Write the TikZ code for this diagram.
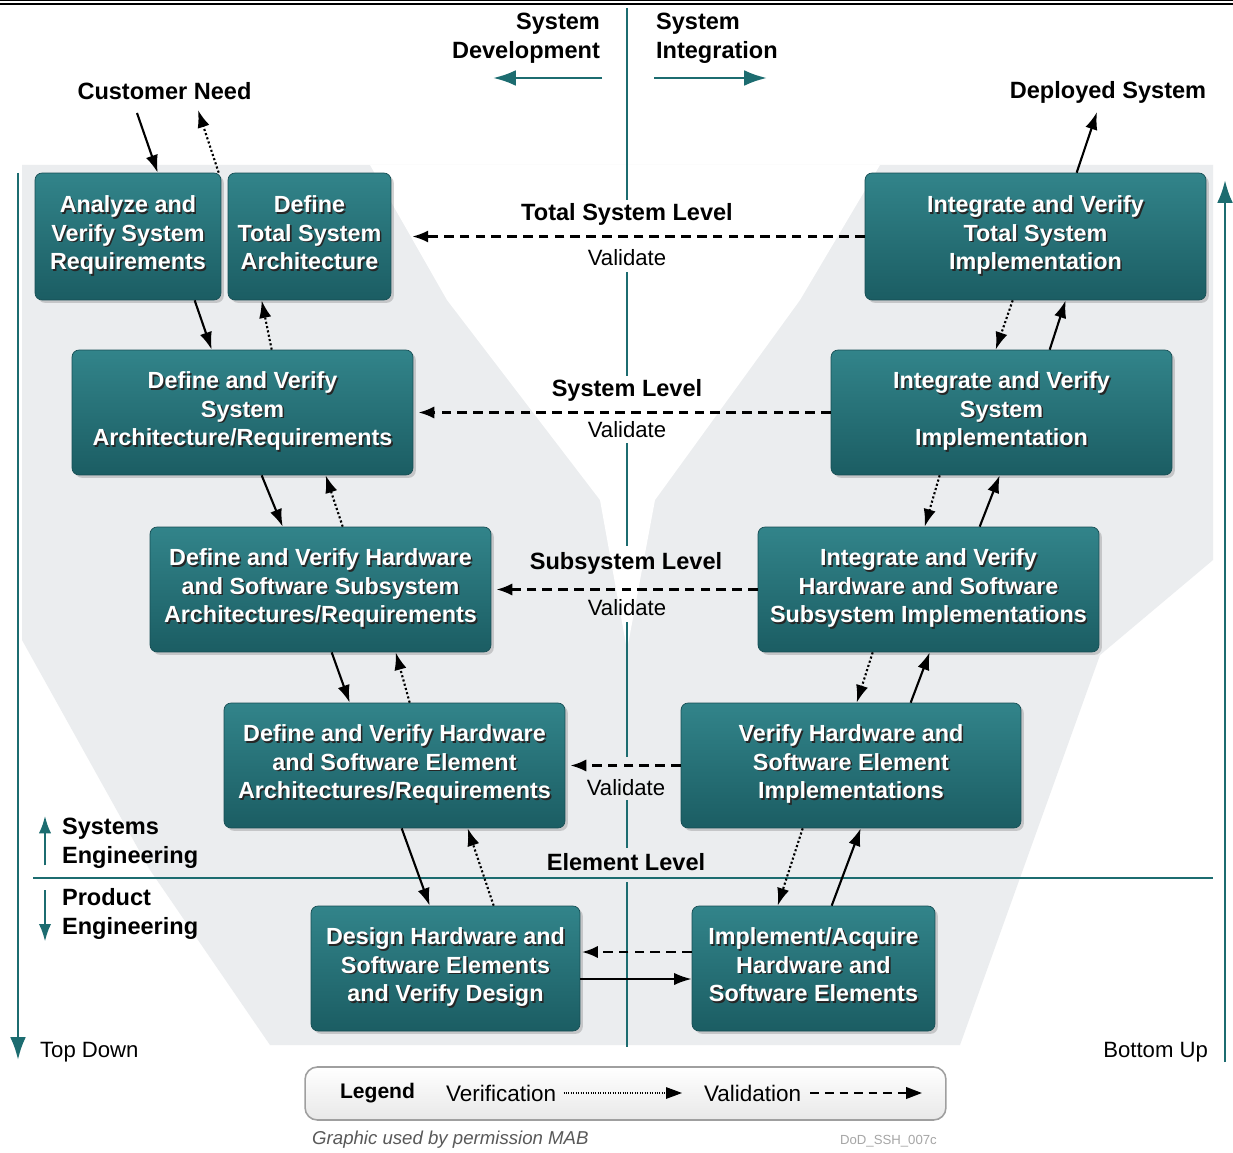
\documentclass[tikz,border=0pt]{standalone}
\usepackage{fontspec}
\setmainfont{Liberation Sans}
\usetikzlibrary{arrows.meta,shadows,calc}

\definecolor{vteal}{RGB}{28,108,112}
\definecolor{boxtop}{RGB}{50,132,138}
\definecolor{boxbot}{RGB}{27,93,99}
\definecolor{boxedge}{RGB}{22,78,84}
\definecolor{bandgray}{RGB}{235,237,239}

\newcommand{\shadowed}[1]{\leavevmode\rlap{\hspace{0.9pt}\raisebox{-0.9pt}{\color{black!85}\begin{tabular}{@{}c@{}}#1\end{tabular}}}\begin{tabular}{@{}c@{}}#1\end{tabular}}

\begin{document}
\begin{tikzpicture}[x=0.02cm,y=-0.02cm,
    stagebox/.style={rounded corners=4pt,top color=boxtop,bottom color=boxbot,draw=boxedge,line width=0.4pt,
      drop shadow={shadow xshift=1.6pt,shadow yshift=-1.6pt,opacity=0.35},
      minimum height=2.5cm,inner sep=0pt,text=white,font=\fontsize{13.3}{16.2}\selectfont\bfseries},
    lvl/.style={font=\fontsize{13.4}{16.5}\selectfont\bfseries,inner sep=1pt},
    val/.style={font=\fontsize{12.6}{15}\selectfont,inner sep=1pt},
    flow/.style={line width=1.2pt,-{Latex[length=10pt,width=7pt]}},
    verify/.style={flow,dash pattern=on 1.2pt off 1.3pt},
    validate/.style={line width=1.2pt,dash pattern=on 5.5pt off 3.5pt,-{Latex[length=9pt,width=7pt]}},
    tealarrow/.style={draw=vteal,line width=1.6pt,-{Latex[length=13pt,width=9pt]}},
    vline/.style={draw=vteal,line width=1.3pt}]

    % page and the grey V band
    \fill[white] (0,0) rectangle (1233,1152);
    \useasboundingbox (0,0) rectangle (1233,1152);
    \fill[bandgray] (22,165) -- (1213,165) -- (1213,560) -- (1100,655) -- (960,1045)
        -- (270,1045) -- (150,870) -- (22,640) -- cycle;
    \fill[white] (370,165) -- (447,300) -- (600,500) -- (627,650) -- (655,500)
        -- (800,300) -- (880,165) -- cycle;

    % top rules
    \draw[line width=0.8pt] (0,0.8) -- (1233,0.8);
    \draw[line width=1.3pt] (0,4) -- (1233,4);

    % dividers
    \draw[vline] (627,8) -- (627,200) (627,272) -- (627,376) (627,443) -- (627,546)
        (627,622) -- (627,757) (627,800) -- (627,848) (627,882) -- (627,1047);
    \draw[vline] (33,878) -- (1213,878);

    % directions
    \node[lvl,align=right,anchor=east] (sysdev) at (602,38) {System\\Development};
    \node[lvl,align=left,anchor=west] (sysint) at (654,38) {System\\Integration};
    \coordinate (devend) at (493,78);
    \coordinate (intend) at (767,78);
    \draw[tealarrow] (sysdev.south east |- devend) -- (devend);
    \draw[tealarrow] (sysint.south west |- intend) -- (intend);

    \coordinate (tdtop) at (18,173);
    \coordinate (tdbot) at (18,1060);
    \draw[tealarrow] (tdtop) -- (tdbot);
    \node[val,anchor=west] (topdown) at (38,1052) {Top Down};
    \coordinate (bubot) at (1225,1062);
    \coordinate (butop) at (1225,180);
    \draw[tealarrow] (bubot) -- (butop);
    \node[val,anchor=east] (bottomup) at (1210,1052) {Bottom Up};

    \node[lvl,align=left,anchor=west] (syseng) at (60,843) {Systems\\Engineering};
    \node[lvl,align=left,anchor=west] (prodeng) at (60,914) {Product\\Engineering};
    \draw[tealarrow,line width=1.4pt,-{Latex[length=10pt,width=7pt]}]
        ($(syseng.south west)+(-15,-5)$) -- ($(syseng.north west)+(-15,0)$);
    \draw[tealarrow,line width=1.4pt,-{Latex[length=10pt,width=7pt]}]
        ($(prodeng.north west)+(-15,4)$) -- ($(prodeng.south west)+(-15,0)$);

    % stages
    \node[stagebox,minimum width=3.72cm,minimum height=2.54cm] (analyze) at (128,236.5) {\shadowed{Analyze and\\Verify System\\Requirements}};
    \node[stagebox,minimum width=3.26cm,minimum height=2.54cm] (totarch) at (309.5,236.5) {\shadowed{Define\\Total System\\Architecture}};
    \node[stagebox,minimum width=6.82cm] (sysarch) at (242.5,412.5) {\shadowed{Define and Verify\\System\\Architecture/Requirements}};
    \node[stagebox,minimum width=6.82cm] (subarch) at (320.5,589.5) {\shadowed{Define and Verify Hardware\\and Software Subsystem\\Architectures/Requirements}};
    \node[stagebox,minimum width=6.82cm] (elemarch) at (394.5,765.5) {\shadowed{Define and Verify Hardware\\and Software Element\\Architectures/Requirements}};
    \node[stagebox,minimum width=5.38cm] (design) at (445.5,968.5) {\shadowed{Design Hardware and\\Software Elements\\and Verify Design}};
    \node[stagebox,minimum width=4.86cm] (implement) at (813.5,968.5) {\shadowed{Implement/Acquire\\Hardware and\\Software Elements}};
    \node[stagebox,minimum width=6.8cm] (verifyelem) at (851,765.5) {\shadowed{Verify Hardware and\\Software Element\\Implementations}};
    \node[stagebox,minimum width=6.82cm] (intsub) at (928.5,589.5) {\shadowed{Integrate and Verify\\Hardware and Software\\Subsystem Implementations}};
    \node[stagebox,minimum width=6.82cm] (intsys) at (1001.5,412.5) {\shadowed{Integrate and Verify\\System\\Implementation}};
    \node[stagebox,minimum width=6.82cm,minimum height=2.54cm] (inttotal) at (1035.5,236.5) {\shadowed{Integrate and Verify\\Total System\\Implementation}};

    % need and deployment
    \node[lvl] (custneed) at (164.5,91) {Customer Need};
    \coordinate (custin) at (137,113);
    \coordinate (custout) at (198,110);
    \draw[flow] (custin) -- ($(analyze.north west)+(123,0)$);
    \draw[verify] ($(analyze.north west)+(184,0)$) -- (custout);
    \node[lvl] (deployed) at (1108,92) {Deployed System};
    \coordinate (deployout) at (1097,112);
    \draw[flow] ($(inttotal.north west)+(212,0)$) -- (deployout);

    % levels
    \node[lvl] (tslevel) at (627,214) {Total System Level};
    \node[val] (tsval) at (627,258) {Validate};
    \node[lvl] (slevel) at (627,390) {System Level};
    \node[val] (sval) at (627,430) {Validate};
    \node[lvl] (sslevel) at (626,563) {Subsystem Level};
    \node[val] (ssval) at (627,608) {Validate};
    \node[val] (elval) at (626,788) {Validate};
    \node[lvl] (ellevel) at (626,862) {Element Level};

    \draw[validate,shorten >=12pt] (inttotal.west) -- (totarch.east);
    \draw[validate,shorten >=3pt] (intsys.west) -- (sysarch.east);
    \draw[validate,shorten >=3pt] (intsub.west) -- (subarch.east);
    \draw[validate,shorten >=3pt] (verifyelem.west) -- (elemarch.east);
    \draw[validate,shorten >=1pt] ($(implement.west)+(0,-16.5)$) -- ($(design.east)+(0,-16.5)$);
    \draw[flow] ($(design.east)+(0,10.5)$) -- ($(implement.west)+(0,10.5)$);

    % down the left
    \draw[flow] ($(analyze.south west)+(160,0)$) -- ($(sysarch.north west)+(140,0)$);
    \draw[verify] ($(sysarch.north west)+(200,0)$) -- ($(totarch.south west)+(34,0)$);
    \draw[flow] ($(sysarch.south west)+(190,0)$) -- ($(subarch.north west)+(133,0)$);
    \draw[verify] ($(subarch.north west)+(193,0)$) -- ($(sysarch.south west)+(254,0)$);
    \draw[flow] ($(subarch.south west)+(182,0)$) -- ($(elemarch.north west)+(126,0)$);
    \draw[verify] ($(elemarch.north west)+(186,0)$) -- ($(subarch.south west)+(246,0)$);
    \draw[flow] ($(elemarch.south west)+(178,0)$) -- ($(design.north west)+(119,0)$);
    \draw[verify] ($(design.north west)+(183,0)$) -- ($(elemarch.south west)+(244,0)$);

    % up the right
    \draw[verify] ($(inttotal.south west)+(148,0)$) -- ($(intsys.north west)+(165,0)$);
    \draw[flow] ($(intsys.north west)+(219,0)$) -- ($(inttotal.south west)+(201,0)$);
    \draw[verify] ($(intsys.south west)+(109,0)$) -- ($(intsub.north west)+(167,0)$);
    \draw[flow] ($(intsub.north west)+(222,0)$) -- ($(intsys.south west)+(169,0)$);
    \draw[verify] ($(intsub.south west)+(115,0)$) -- ($(verifyelem.north west)+(176,0)$);
    \draw[flow] ($(verifyelem.north west)+(230,0)$) -- ($(intsub.south west)+(172,0)$);
    \draw[verify] ($(verifyelem.south west)+(122,0)$) -- ($(implement.north west)+(86,0)$);
    \draw[flow] ($(implement.north west)+(140,0)$) -- ($(verifyelem.south west)+(180,0)$);

    % legend
    \node[draw=gray!75,line width=0.9pt,rounded corners=7pt,top color=white,bottom color=gray!18,
        minimum width=12.82cm,minimum height=1.06cm] (legendbox) at (625.5,1093.5) {};
    \node[font=\fontsize{12}{14}\selectfont\bfseries,inner sep=1pt] (legend) at (377.5,1093) {Legend};
    \node[val,anchor=west,font=\fontsize{12.8}{15}\selectfont] (verif) at (444,1093) {Verification};
    \coordinate (verifend) at (682,1093);
    \draw[line width=0.6pt,dash pattern=on 0.5pt off 0.9pt,-{Triangle[length=9pt,width=6.5pt]}]
        ([xshift=3pt]verif.east) -- (verifend);
    \node[val,anchor=west,font=\fontsize{12.8}{15}\selectfont] (valid) at (702,1093) {Validation};
    \coordinate (validend) at (922,1093);
    \draw[line width=1.2pt,dash pattern=on 5pt off 3.3pt,-{Triangle[length=9pt,width=6.5pt]}]
        ([xshift=4pt]valid.east) -- (validend);

    \node[anchor=west,font=\fontsize{10.6}{12}\selectfont\itshape,text=black!65] (credit) at (306,1140) {Graphic used by permission MAB};
    \node[anchor=east,font=\fontsize{7.5}{9}\selectfont,text=black!35] (docid) at (943,1141) {DoD\_SSH\_007c};
\end{tikzpicture}
\end{document}
